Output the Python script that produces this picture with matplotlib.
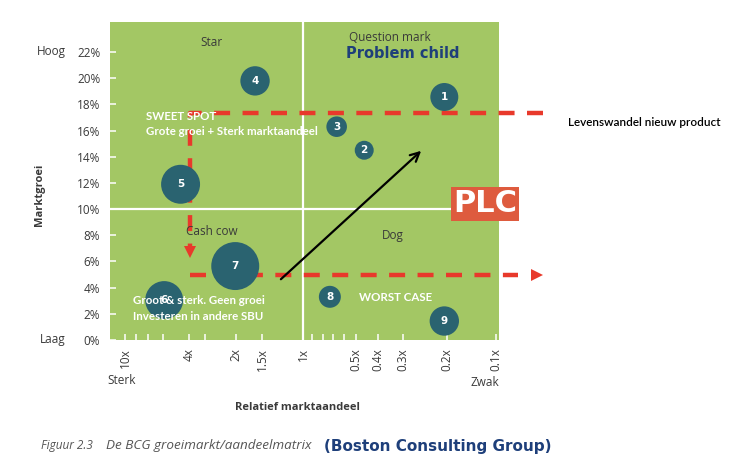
import numpy as np
import matplotlib.pyplot as plt
from matplotlib.transforms import blended_transform_factory

# ── BCG data ────────────────────────────────────────────────────────
sbu_labels = ["1", "2", "3", "4", "5", "6", "7", "8", "9"]
rel_share = [0.205, 0.46, 0.665, 1.62, 4.3, 4.95, 2.02, 0.73, 0.205]   # relatief marktaandeel (x)
growth = [18.57, 14.5, 16.3, 19.8, 11.9, 3.05, 5.65, 3.3, 1.45]         # marktgroei in %
omzet = [196, 90, 106, 216, 380, 361, 576, 121, 216]                    # bubble area

y_ticks = [0, 2, 4, 6, 8, 10, 12, 14, 16, 18, 20, 22]
x_major = [10, 4, 2, 1.5, 1, 0.5, 0.4, 0.3, 0.2, 0.1]
x_major_labels = ["10x", "4x", "2x", "1.5x", "1x", "0.5x", "0.4x", "0.3x", "0.2x", "0.1x"]
x_minor = [8, 6, 5, 3, 0.9, 0.8, 0.7, 0.6]

# ── colours ─────────────────────────────────────────────────────────
GREEN = "#a3c764"
TEAL = "#2a6370"
RED = "#e8392b"
PLC_RED = "#de5b3e"
NAVY = "#1e3f7a"
GREY = "#3a3a3a"

# ── the printed axis is not a clean log scale: map share -> position
# by the tick spacing of the original figure (pixels from right edge)
anchor_share = np.array([0.1, 0.2, 0.3, 0.4, 0.5, 0.6, 0.7, 0.8, 0.9, 1,
                         1.5, 2, 3, 4, 5, 6, 8, 10])
anchor_pos = 499 - np.array([496, 447, 403, 378, 356, 344, 333, 323, 312, 303,
                             262, 236, 205, 189, 163, 148, 136, 125])
L = np.log10(anchor_share)
s_lo = (anchor_pos[1] - anchor_pos[0]) / (L[1] - L[0])
s_hi = (anchor_pos[-1] - anchor_pos[-2]) / (L[-1] - L[-2])


def fwd(x):
    lx = np.log10(np.clip(np.asarray(x, dtype=float), 1e-9, None))
    y = np.interp(lx, L, anchor_pos)
    y = np.where(lx < L[0], anchor_pos[0] + (lx - L[0]) * s_lo, y)
    y = np.where(lx > L[-1], anchor_pos[-1] + (lx - L[-1]) * s_hi, y)
    return y


def inv(p):
    p = np.asarray(p, dtype=float)
    lx = np.interp(p, anchor_pos, L)
    lx = np.where(p < anchor_pos[0], L[0] + (p - anchor_pos[0]) / s_lo, lx)
    lx = np.where(p > anchor_pos[-1], L[-1] + (p - anchor_pos[-1]) / s_hi, lx)
    return 10 ** lx


fig = plt.figure(figsize=(7.49, 4.75), dpi=100)
ax = fig.add_axes([110 / 749, 1 - 340 / 475, 389 / 749, 318 / 475])
ax.set_facecolor(GREEN)
ax.set_xscale("function", functions=(fwd, inv))
ax.set_xlim(float(inv(389)), float(inv(0)))
ax.set_ylim(0, 24.3)
for sp in ax.spines.values():
    sp.set_visible(False)

# quadrant lines
ax.axhline(10, color="white", lw=1.6, zorder=1)
ax.axvline(1, color="white", lw=1.6, zorder=1)

# ticks
ax.set_yticks(y_ticks)
ax.set_yticklabels([f"{v}%" for v in y_ticks])
ax.set_xticks(x_major)
ax.set_xticklabels(x_major_labels, rotation=90, va="top")
ax.set_xticks(x_minor, minor=True)
ax.tick_params(axis="both", which="both", direction="in", color="white",
               width=1.1, length=4.5, labelsize=8.5, labelcolor=GREY)
ax.tick_params(axis="y", pad=7)
ax.tick_params(axis="x", pad=6)
for t in ax.get_xticklabels() + ax.get_yticklabels():
    t.set_family("Open Sans")

# bubbles
ax.scatter(rel_share, growth, s=np.array(omzet) * 2.07, color=TEAL,
           edgecolors="none", zorder=3)
for lab, xv, yv in zip(sbu_labels, rel_share, growth):
    ax.text(xv, yv, lab, color="white", fontsize=7.5, fontweight="bold",
            ha="center", va="center", zorder=4)

# quadrant titles
qkw = dict(transform=ax.transAxes, ha="center", va="center", color=GREY,
           fontsize=8.5, family="Open Sans")
ax.text(0.26, 0.937, "Star", **qkw)
ax.text(0.72, 0.95, "Question mark", **qkw)
ax.text(0.752, 0.902, "Problem child", transform=ax.transAxes, ha="center",
        va="center", color=NAVY, fontsize=10.5, fontweight="bold")
ax.text(0.261, 0.341, "Cash cow", **qkw)
ax.text(0.727, 0.330, "Dog", **qkw)

# white annotations
wkw = dict(transform=ax.transAxes, ha="left", va="center", color="white",
           fontsize=8.3, fontweight="bold", family="Lato", zorder=5)
ax.text(0.093, 0.704, "SWEET SPOT", **wkw)
ax.text(0.093, 0.657, "Grote groei + Sterk marktaandeel", **wkw)
ax.text(0.060, 0.123, "Groot & sterk. Geen groei", **wkw)
ax.text(0.060, 0.074, "Investeren in andere SBU", **wkw)
ax.text(0.640, 0.133, "WORST CASE", **wkw)

# red life-cycle path (x in axes fraction, y in %)
bt = blended_transform_factory(ax.transAxes, ax.transData)
dash = dict(color=RED, lw=3.2, dashes=(3.6, 2.8), transform=bt,
            clip_on=False, zorder=2, solid_capstyle="butt")
ax.plot([1.113, 0.2057, 0.2057], [17.35, 17.35, 6.8], **dash)
ax.plot([0.2057, 1.05], [5.0, 5.0], **dash)
ax.plot([0.2057], [6.7], marker="v", ms=9, color=RED, transform=bt,
        clip_on=False, zorder=2, markeredgewidth=0)
ax.plot([1.098], [5.0], marker=">", ms=9, color=RED, transform=bt,
        clip_on=False, zorder=2, markeredgewidth=0)

# black growth arrow
ax.annotate("", xy=(0.249, 14.6), xytext=(1.27, 4.5),
            arrowprops=dict(arrowstyle="->", color="black", lw=1.6,
                            mutation_scale=16), zorder=4)

# PLC box
fig.text(485 / 749, 1 - 204 / 475, "PLC", color="white", fontsize=22,
         fontweight="bold", ha="center", va="center",
         bbox=dict(boxstyle="square,pad=0.08", facecolor=PLC_RED,
                   edgecolor="none"))

# texts around the plot
fig.text(66 / 749, 1 - 51 / 475, "Hoog", ha="right", va="center",
         fontsize=8.5, color=GREY, family="Open Sans")
fig.text(66 / 749, 1 - 340 / 475, "Laag", ha="right", va="center",
         fontsize=8.5, color=GREY, family="Open Sans")
fig.text(40 / 749, 1 - 195 / 475, "Marktgroei", rotation=90, ha="center",
         va="center", fontsize=8, fontweight="bold", color=GREY,
         family="Open Sans")
fig.text(107 / 749, 1 - 381 / 475, "Sterk", ha="left", va="center",
         fontsize=8.5, color=GREY, family="Open Sans")
fig.text(499 / 749, 1 - 383 / 475, "Zwak", ha="right", va="center",
         fontsize=8.5, color=GREY, family="Open Sans")
fig.text(297 / 749, 1 - 407 / 475, "Relatief marktaandeel", ha="center",
         va="center", fontsize=8, fontweight="bold", color=GREY,
         family="Open Sans")
fig.text(568 / 749, 1 - 123 / 475, "Levenswandel nieuw product", ha="left",
         va="center", fontsize=8.5, color="black", family="Lato",
         fontweight="semibold")

# caption
fig.text(41 / 749, 1 - 446 / 475, "Figuur 2.3", ha="left", va="center",
         fontsize=8.5, style="italic", color="#555555", family="Open Sans")
fig.text(106 / 749, 1 - 446 / 475, "De BCG groeimarkt/aandeelmatrix",
         ha="left", va="center", fontsize=9.7, style="italic",
         color="#555555", family="Open Sans")
fig.text(324 / 749, 1 - 446 / 475, "(Boston Consulting Group)", ha="left",
         va="center", fontsize=11, fontweight="bold", color=NAVY)

fig.savefig("out.png", dpi=100)
